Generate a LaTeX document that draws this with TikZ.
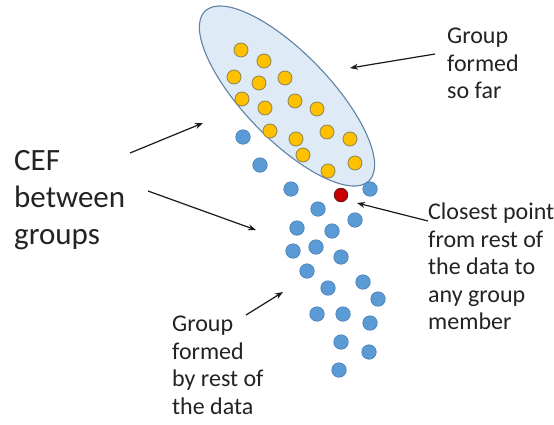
\documentclass[tikz,border=0pt]{standalone}
\usepackage{fontspec}
\setmainfont{Carlito}
\usetikzlibrary{arrows.meta}

\definecolor{goldpt}{RGB}{255,192,0}
\definecolor{goldedge}{RGB}{150,140,80}
\definecolor{bluept}{RGB}{91,155,213}
\definecolor{blueedge}{RGB}{70,125,180}
\definecolor{redpt}{RGB}{200,0,0}
\definecolor{rededge}{RGB}{110,20,20}
\definecolor{groupfill}{RGB}{222,235,247}
\definecolor{groupedge}{RGB}{95,130,165}
\definecolor{labeltext}{RGB}{35,35,35}

\tikzset{
  goldnode/.style={circle,fill=goldpt,draw=goldedge,line width=0.9pt,minimum size=14pt,inner sep=0pt},
  bluenode/.style={circle,fill=bluept,draw=blueedge,line width=0.6pt,minimum size=14.5pt,inner sep=0pt},
  rednode/.style={circle,fill=redpt,draw=rededge,line width=0.9pt,minimum size=13.5pt,inner sep=0pt},
  note/.style={align=left,anchor=north west,inner sep=0pt,text=labeltext,
    font=\fontsize{24}{27.5}\selectfont},
  pointer/.style={-{Stealth[length=8pt,width=6pt]},line width=1.2pt,black!90},
}

\begin{document}
\begin{tikzpicture}[x=1pt,y=-1pt]
    \useasboundingbox (0,0) rectangle (554,424);

    % the group formed so far
    \draw[groupedge,fill=groupfill,line width=1.1pt,rotate around={-46:(287,96)}]
      (287,96) ellipse [x radius=118pt, y radius=43pt];

    \foreach \px/\py [count=\k] in {241/50,264/61,234/77,259/83,285/78,242/99,
        265/108,295/101,317/109,270/131,296/139,327/132,350/139,303/155,355/163,328/171}
      \node[goldnode] (g\k) at (\px,\py) {};

    % rest of the data
    \foreach \px/\py [count=\k] in {243/137,260/165,291/189,370/189,318/209,355/220,
        297/228,332/231,293/251,316/247,341/257,307/271,363/282,328/288,378/299,
        317/314,343/314,370/323,341/342,369/352,339/370}
      \node[bluenode] (b\k) at (\px,\py) {};

    \node[rednode] (closest) at (341,195) {};

    % labels
    \node[note] (sofar) at (447,28) {Group\\formed\\so far};
    \node[note] (closetext) at (428,203) {Closest point\\from rest of\\the data to\\any group\\member};
    \node[note] (resttext) at (172,316) {Group\\formed\\by rest of\\the data};
    \node[note,font=\fontsize{31}{37}\selectfont] (ceftext) at (14,150) {CEF\\between\\groups};

    % arrows
    \coordinate (sofartail) at (435,54);
    \coordinate (sofartip) at (350,68);
    \coordinate (cefup) at (130,153);
    \coordinate (cefuptip) at (203,123);
    \coordinate (cefdown) at (148,191);
    \coordinate (cefdowntip) at (256,230);
    \coordinate (closetail) at (428,221);
    \coordinate (closetip) at (357,203);
    \coordinate (resttail) at (246,315);
    \coordinate (resttip) at (283,292);

    \draw[pointer] (sofartail) -- (sofartip);
    \draw[pointer] (cefup) -- (cefuptip);
    \draw[pointer] (cefdown) -- (cefdowntip);
    \draw[pointer] (closetail) -- (closetip);
    \draw[pointer] (resttail) -- (resttip);
  \end{tikzpicture}
\end{document}
